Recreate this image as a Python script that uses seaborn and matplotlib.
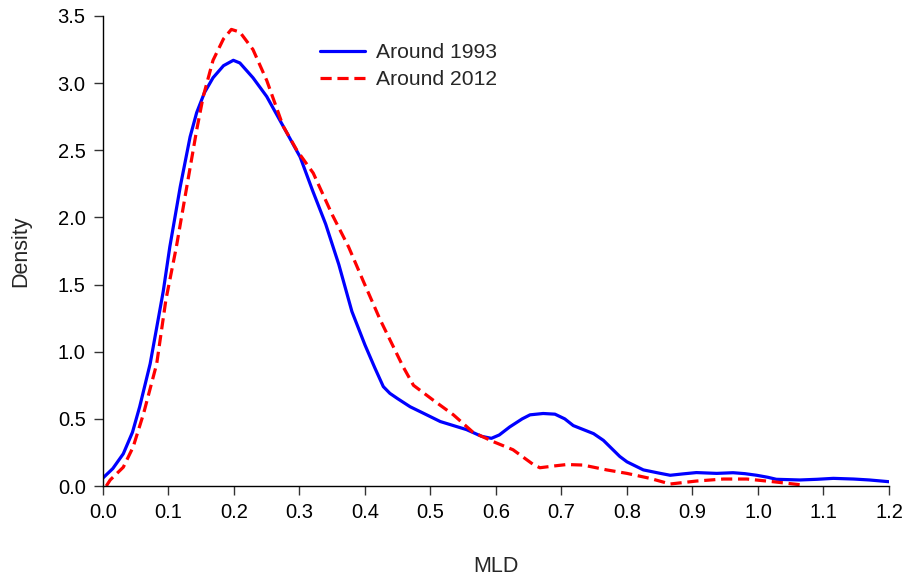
import numpy as np
import pandas as pd
import matplotlib
matplotlib.use("Agg")
import matplotlib.pyplot as plt
import seaborn as sns

# density curves
mld_1993 = [0.0, 0.015, 0.031, 0.045, 0.056, 0.072, 0.092, 0.102, 0.118, 0.133, 0.143,
            0.155, 0.168, 0.184, 0.199, 0.209, 0.229, 0.25, 0.275, 0.301, 0.32, 0.34, 0.36,
            0.38, 0.40, 0.415, 0.428, 0.438, 0.45, 0.469, 0.49, 0.515, 0.555, 0.578,
            0.593, 0.605, 0.621, 0.64, 0.652, 0.672, 0.69, 0.705, 0.718, 0.749, 0.764,
            0.789, 0.80, 0.825, 0.85, 0.866, 0.885, 0.906, 0.937, 0.962, 0.98, 0.998,
            1.015, 1.028, 1.064, 1.09, 1.115, 1.146, 1.17, 1.2]
dens_1993 = [0.06, 0.13, 0.24, 0.40, 0.59, 0.91, 1.45, 1.78, 2.23, 2.60, 2.78,
             2.93, 3.04, 3.13, 3.17, 3.15, 3.04, 2.90, 2.68, 2.45, 2.20, 1.95, 1.65,
             1.30, 1.05, 0.88, 0.74, 0.69, 0.65, 0.59, 0.54, 0.48, 0.42, 0.37,
             0.355, 0.38, 0.44, 0.50, 0.53, 0.54, 0.535, 0.50, 0.45, 0.39, 0.34,
             0.22, 0.18, 0.12, 0.095, 0.08, 0.09, 0.10, 0.094, 0.099, 0.092, 0.08,
             0.065, 0.05, 0.045, 0.05, 0.057, 0.052, 0.045, 0.032]

mld_2012 = [0.005, 0.011, 0.031, 0.046, 0.062, 0.082, 0.096, 0.112, 0.128, 0.143, 0.153,
            0.168, 0.184, 0.196, 0.209, 0.229, 0.25, 0.275, 0.296, 0.321, 0.35, 0.375,
            0.397, 0.423, 0.438, 0.458, 0.474, 0.504, 0.535, 0.565, 0.596, 0.626,
            0.657, 0.667, 0.69, 0.708, 0.733, 0.769, 0.80, 0.835, 0.866, 0.906,
            0.947, 0.983, 1.023, 1.069]
dens_2012 = [0.0, 0.045, 0.14, 0.29, 0.54, 0.91, 1.385, 1.78, 2.23, 2.65, 2.90,
             3.17, 3.33, 3.40, 3.38, 3.25, 3.02, 2.68, 2.50, 2.33, 2.02, 1.78,
             1.53, 1.24, 1.09, 0.89, 0.75, 0.64, 0.53, 0.40, 0.33, 0.27,
             0.16, 0.136, 0.15, 0.16, 0.156, 0.12, 0.094, 0.057, 0.015, 0.037,
             0.052, 0.052, 0.032, 0.007]

x_ticks = [0.0, 0.1, 0.2, 0.3, 0.4, 0.5, 0.6, 0.7, 0.8, 0.9, 1.0, 1.1, 1.2]
y_ticks = [0.0, 0.5, 1.0, 1.5, 2.0, 2.5, 3.0, 3.5]

sns.set_style("ticks")
plt.rcParams['font.family'] = ['Liberation Sans', 'DejaVu Sans']

df93 = pd.DataFrame({"MLD": mld_1993, "Density": dens_1993})
df12 = pd.DataFrame({"MLD": mld_2012, "Density": dens_2012})

fig = plt.figure(figsize=(9.05, 5.79), dpi=100)
ax = fig.add_axes([0.1138, 0.1606, 0.8685, 0.8118])

sns.lineplot(data=df93, x="MLD", y="Density", ax=ax, color="#0000ff",
             linewidth=2.3, estimator=None, sort=False, label="Around 1993")
sns.lineplot(data=df12, x="MLD", y="Density", ax=ax, color="#ff0000",
             linewidth=2.3, estimator=None, sort=False, label="Around 2012",
             dashes=False)
ax.lines[1].set_dashes([3.5, 1.8])

ax.set_xlim(0, 1.2)
ax.set_ylim(0, 3.5)
ax.set_xticks(x_ticks)
ax.set_yticks(y_ticks)
ax.set_xticklabels([f"{v:.1f}" for v in x_ticks])
ax.set_yticklabels([f"{v:.1f}" for v in y_ticks])
ax.tick_params(axis="both", labelsize=14.5, length=6.5, width=1, color="#333333",
               labelcolor="black", direction="out", pad=6)
ax.set_xlabel("MLD", fontsize=15.5, labelpad=24)
ax.set_ylabel("Density", fontsize=15.5, labelpad=19)
sns.despine(ax=ax)
for s in ["left", "bottom"]:
    ax.spines[s].set_color("black")
    ax.spines[s].set_linewidth(1)

leg = ax.legend(loc="upper left", bbox_to_anchor=(0.252, 0.982), frameon=False,
                fontsize=15.2, handlelength=2.15, handletextpad=0.5, labelspacing=0.38)
for h in leg.get_lines():
    h.set_linewidth(2.3)
leg.get_lines()[1].set_dashes([3.5, 1.8])

fig.savefig("out.png", dpi=100)
